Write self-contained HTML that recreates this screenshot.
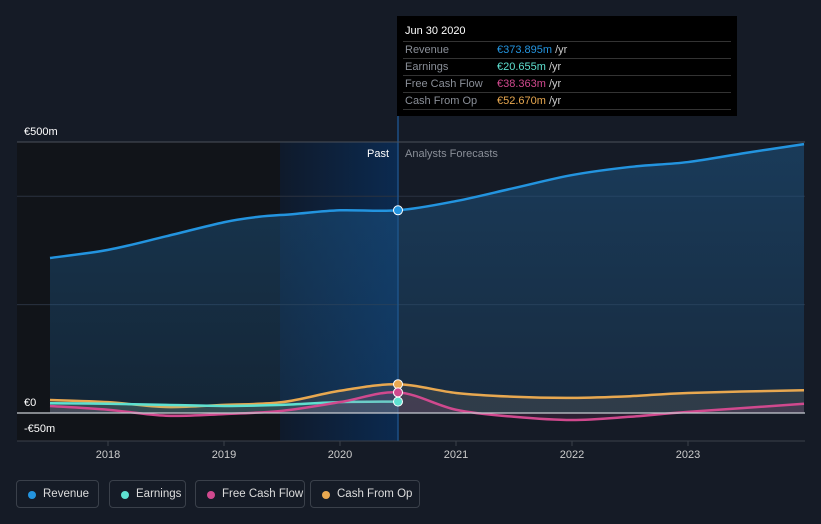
<!DOCTYPE html>
<html><head><meta charset="utf-8"><style>
body{margin:0;background:#151b26;font-family:"Liberation Sans",sans-serif;}
#wrap{position:relative;width:821px;height:524px;overflow:hidden}
.tt{position:absolute;left:397px;top:16px;width:340px;height:100px;background:#000;color:#fff;font-size:11px}
.tt .h{position:absolute;left:8px;top:9px;font-size:11px}
.tt .r{position:absolute;left:6px;width:328px;height:16px;border-top:1px solid #333;color:#8a8f98}
.tt .r span{position:absolute;left:94px;top:2px}
.tt .r b{font-weight:normal}
.tt .r i{font-style:normal;color:#ccc}
.tt .r .l{position:absolute;left:2px;top:2px}
.legend{position:absolute;top:480px;height:28px;border:1px solid #3a404a;border-radius:4px;color:#ddd;font-size:11.5px;line-height:27px;box-sizing:border-box;padding-left:26px;white-space:nowrap}
.legend:before{content:"";position:absolute;left:11px;top:10px;width:8px;height:8px;border-radius:50%;background:var(--c)}
</style></head><body><div id="wrap">
<svg id="svg" width="821" height="524" style="position:absolute;left:0;top:0"></svg>
<div class="tt">
<div class="h">Jun 30 2020</div>
<div class="r" style="top:25px"><span class="l" style="left:2px">Revenue</span><span><b style="color:#2394df">€373.895m</b> <i>/yr</i></span></div>
<div class="r" style="top:42px"><span class="l" style="left:2px">Earnings</span><span><b style="color:#5ee0d0">€20.655m</b> <i>/yr</i></span></div>
<div class="r" style="top:59px"><span class="l" style="left:2px">Free Cash Flow</span><span><b style="color:#d0498e">€38.363m</b> <i>/yr</i></span></div>
<div class="r" style="top:76px;border-bottom:1px solid #333"><span class="l" style="left:2px">Cash From Op</span><span><b style="color:#e8a850">€52.670m</b> <i>/yr</i></span></div>
</div>
<div class="legend" style="left:16px;width:83px;--c:#2394df">Revenue</div>
<div class="legend" style="left:109px;width:77px;--c:#5ee0d0">Earnings</div>
<div class="legend" style="left:195px;width:110px;--c:#d0498e">Free Cash Flow</div>
<div class="legend" style="left:310px;width:110px;--c:#e8a850">Cash From Op</div>
</div>
<script>
const revX=[2017.5,2018,2018.5,2019,2019.3,2019.6,2020,2020.5,2021,2021.5,2022,2022.5,2023,2023.5,2024];
const revY=[286,301,326,352,362,367,374,374,391,415,439,454,463,480,496];
const cfoX=[2017.5,2018,2018.5,2019,2019.5,2020,2020.5,2021,2021.5,2022,2022.5,2023,2024];
const cfoY=[24,20,11,15,20,41,53,37,30,28,31,37,42];
const fcfX=[2017.5,2018,2018.5,2019,2019.5,2020,2020.5,2021,2021.5,2022,2022.5,2023,2024];
const fcfY=[13,6,-5,-2,4,20,38,6,-7,-13,-7,2,17];
const earnX=[2017.5,2018,2018.5,2019,2019.5,2020,2020.5];
const earnY=[18,17,15,13,15,20,21];
const yTicks=[500,0,-50];const yLabels=["€500m","€0","-€50m"];
const xTicks=[2018,2019,2020,2021,2022,2023];
const grid=[400,200];
const NOW=2020.5;
const sx=v=>108+(v-2018)*116, sy=v=>413-v*271/500;
const svg=document.getElementById('svg');const NS="http://www.w3.org/2000/svg";
function el(t,a){const e=document.createElementNS(NS,t);for(const k in a)e.setAttribute(k,a[k]);svg.appendChild(e);return e;}
const defs=el('defs',{});
defs.innerHTML='<linearGradient id="pg" x1="0" x2="1"><stop offset="0" stop-color="#0f1a2b"/><stop offset="1" stop-color="#0b2a50"/></linearGradient><linearGradient id="rg" x1="0" y1="0" x2="0" y2="1"><stop offset="0" stop-color="#1e5a8c" stop-opacity="0.5"/><stop offset="1" stop-color="#1e5a8c" stop-opacity="0.25"/></linearGradient>';
let r=el('rect',{x:17,y:142,width:263,height:299,fill:'#111419'});
r=el('rect',{x:280,y:142,width:sx(NOW)-280,height:299,fill:'url(#pg)'});
grid.forEach(g=>{const l=el('line',{x1:17,x2:805,y1:sy(g),y2:sy(g),stroke:'#2a3240'});});
let l=el('line',{x1:sx(NOW),x2:sx(NOW),y1:16,y2:441,stroke:'#1d4f86','stroke-width':1.5});
function path(X,Y){const p=X.map((x,i)=>[sx(x),sy(Y[i])]);let d='M'+p[0];for(let i=0;i<p.length-1;i++){const p0=p[i-1]||p[i],p1=p[i],p2=p[i+1],p3=p[i+2]||p2;d+=' C'+(p1[0]+(p2[0]-p0[0])/6)+','+(p1[1]+(p2[1]-p0[1])/6)+' '+(p2[0]-(p3[0]-p1[0])/6)+','+(p2[1]-(p3[1]-p1[1])/6)+' '+p2;}return d;}
const markers=[];
function series(X,Y,c,name,fill){
 const d=path(X,Y);
 const a=el('path',{d:d+' L'+sx(X[X.length-1])+','+sy(0)+' L'+sx(X[0])+','+sy(0)+'Z',fill:fill});
 const l=el('path',{d:d,fill:'none',stroke:c,'stroke-width':2.5});
 const i=X.indexOf(NOW);if(i>=0)markers.push([sy(Y[i]),c,name]);
}
series(revX,revY,'#2394df','revenue','url(#rg)');
series(cfoX,cfoY,'#e8a850','cash-from-op','rgba(120,110,100,0.25)');
series(earnX,earnY,'#5ee0d0','earnings','rgba(94,224,208,0.12)');
series(fcfX,fcfY,'#d0498e','free-cash-flow','rgba(208,73,142,0.12)');
l=el('line',{x1:17,x2:805,y1:sy(500),y2:sy(500),stroke:'#4a505a'});
l=el('line',{x1:17,x2:805,y1:sy(0),y2:sy(0),stroke:'#c8ccd2','stroke-width':1.2});
l=el('line',{x1:17,x2:805,y1:441,y2:441,stroke:'#3a404a'});
markers.forEach(m=>{const c2=el('circle',{cx:sx(NOW),cy:m[0],r:4.5,fill:m[1],stroke:'#fff','stroke-width':1});});
yTicks.forEach((v,i)=>{const t=el('text',{x:24,y:v<0?sy(v)-8:sy(v)-7,fill:'#fff','font-size':11});t.textContent=yLabels[i];});
xTicks.forEach(v=>{const k=el('line',{x1:sx(v),x2:sx(v),y1:441,y2:446,stroke:'#3a404a'});
 const t=el('text',{x:sx(v),y:458,fill:'#ccc','font-size':11,'text-anchor':'middle'});t.textContent=v;});
let t=el('text',{x:sx(NOW)-9,y:157,fill:'#fff','font-size':11,'text-anchor':'end'});t.textContent='Past';
t=el('text',{x:sx(NOW)+7,y:157,fill:'#8a8f98','font-size':11});t.textContent='Analysts Forecasts';
</script></body></html>
